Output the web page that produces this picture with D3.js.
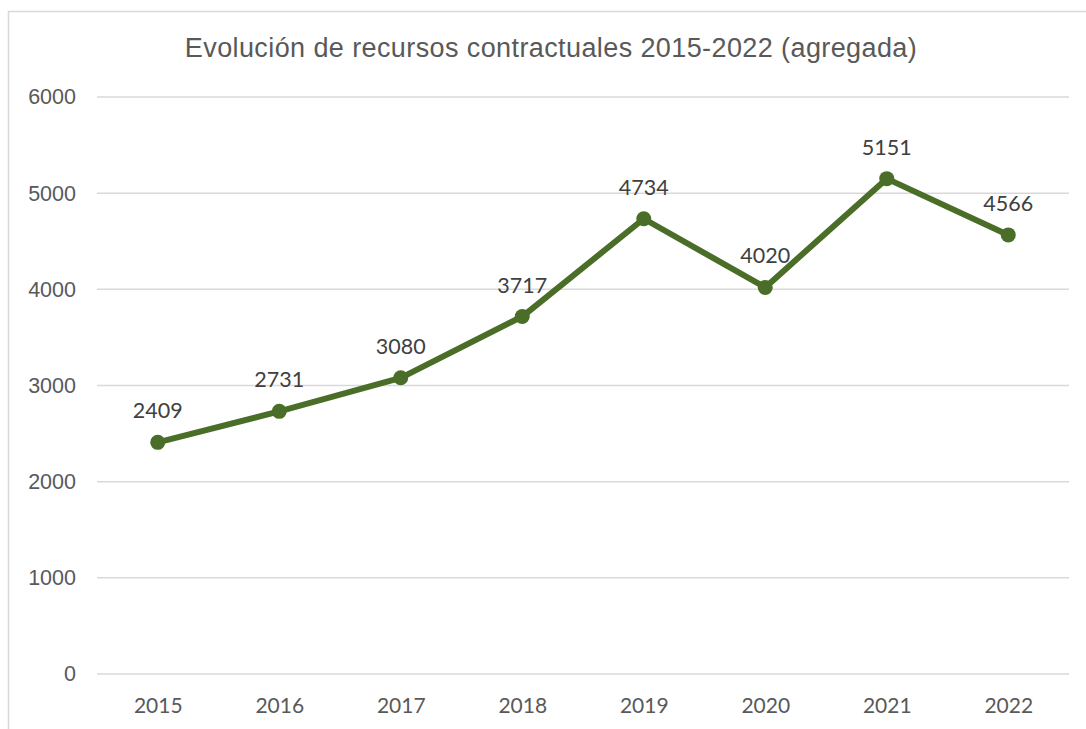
<!DOCTYPE html>
<html>
<head>
<meta charset="utf-8">
<script src="https://cdn.jsdelivr.net/npm/d3@7"></script>
<style>
  body { margin: 0; background: #fff; }
  svg { display: block; }
</style>
</head>
<body>
<svg id="chart" width="1086" height="729"></svg>
<script>
const years = ["2015", "2016", "2017", "2018", "2019", "2020", "2021", "2022"]
const values = [2409, 2731, 3080, 3717, 4734, 4020, 5151, 4566]
const yTicks = [0, 1000, 2000, 3000, 4000, 5000, 6000]
const title = "Evolución de recursos contractuales 2015-2022 (agregada)"

const svg = d3.select("#chart")
const plotLeft = 97, plotRight = 1069, plotTop = 97, plotBottom = 674
const green = "#4a6e27"

// chart frame (right and bottom edges run past the picture)
svg.append("rect")
  .attr("x", 8.5).attr("y", 11.5)
  .attr("width", 1100).attr("height", 740)
  .attr("fill", "#fff")
  .attr("stroke", "#d9d9d9")
  .attr("stroke-width", 1.5)

svg.append("text")
  .attr("x", 551).attr("y", 57)
  .attr("text-anchor", "middle")
  .attr("font-family", "Liberation Sans, Arial, sans-serif")
  .attr("font-size", 27)
  .attr("letter-spacing", 0.4)
  .attr("fill", "#595959")
  .text(title)

const x = d3.scalePoint().domain(years).range([plotLeft, plotRight]).padding(0.5)
const y = d3.scaleLinear().domain([0, 6000]).range([plotBottom, plotTop])

// gridlines
svg.append("g")
  .selectAll("line")
  .data(yTicks)
  .join("line")
  .attr("x1", plotLeft).attr("x2", plotRight)
  .attr("y1", d => y(d)).attr("y2", d => y(d))
  .attr("stroke", "#d9d9d9")
  .attr("stroke-width", 1.5)

// y axis labels
const yAxis = svg.append("g")
  .attr("transform", `translate(${plotLeft - 21},0)`)
  .call(d3.axisLeft(y).tickValues(yTicks).tickSize(0).tickPadding(0).tickFormat(d3.format("d")))
yAxis.select(".domain").remove()
yAxis.selectAll("text")
  .attr("font-family", "Liberation Sans, Arial, sans-serif")
  .attr("font-size", 21.5)
  .attr("fill", "#595959")

// x axis labels
const xAxis = svg.append("g")
  .attr("transform", `translate(0,${plotBottom})`)
  .call(d3.axisBottom(x).tickSize(0).tickPadding(24))
xAxis.select(".domain").remove()
xAxis.selectAll("text")
  .attr("font-family", "Lato, Calibri, sans-serif")
  .attr("font-size", 21)
  .attr("fill", "#595959")

const line = d3.line()
  .x((d, i) => x(years[i]))
  .y(d => y(d))

svg.append("path")
  .datum(values)
  .attr("d", line)
  .attr("fill", "none")
  .attr("stroke", green)
  .attr("stroke-width", 6)
  .attr("stroke-linejoin", "round")

svg.append("g")
  .selectAll("circle")
  .data(values)
  .join("circle")
  .attr("cx", (d, i) => x(years[i]))
  .attr("cy", d => y(d))
  .attr("r", 7.5)
  .attr("fill", green)

svg.append("g")
  .selectAll("text")
  .data(values)
  .join("text")
  .attr("x", (d, i) => x(years[i]))
  .attr("y", d => y(d) - 24)
  .attr("text-anchor", "middle")
  .attr("font-family", "Lato, Calibri, sans-serif")
  .attr("font-size", 21.5)
  .attr("fill", "#404040")
  .text(d => d)
</script>
</body>
</html>
